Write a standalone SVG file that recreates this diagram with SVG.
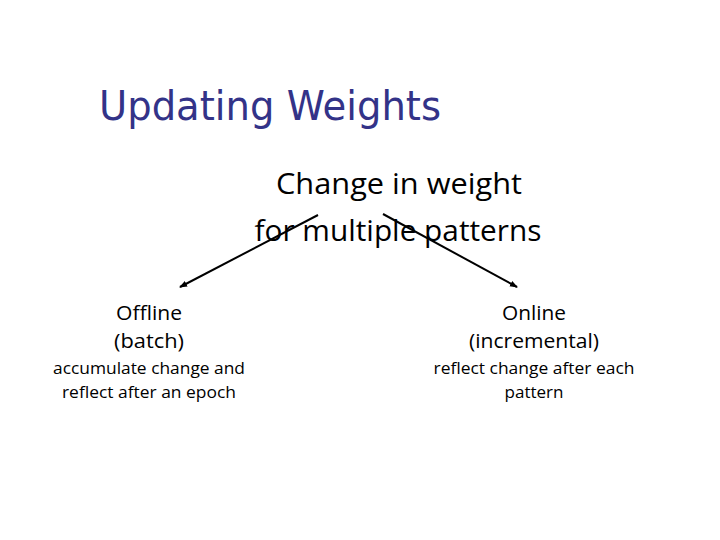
<svg xmlns="http://www.w3.org/2000/svg" width="720" height="540" viewBox="0 0 720 540">
<style>
.t{font-family:"Open Sans","Liberation Sans",sans-serif;fill:#000;text-anchor:middle}
.h{font-family:"DejaVu Sans","Liberation Sans",sans-serif;fill:#333388;font-size:40px}
.c{stroke:#000;stroke-width:2;fill:none;marker-end:url(#a)}
</style>
<defs>
<marker id="a" markerWidth="8" markerHeight="8" refX="7" refY="4" orient="auto" markerUnits="userSpaceOnUse">
<path d="M0,1 L8,4 L0,7 Z" fill="#000"/>
</marker>
</defs>
<rect width="720" height="540" fill="#fff"/>
<text class="h" x="99" y="120" textLength="342" lengthAdjust="spacingAndGlyphs">Updating Weights</text>
<g id="root">
<text class="t" x="399" y="194" font-size="29" textLength="246" lengthAdjust="spacingAndGlyphs">Change in weight</text>
<text class="t" x="398" y="241" font-size="29" textLength="287" lengthAdjust="spacingAndGlyphs">for multiple patterns</text>
</g>
<g id="offline">
<text class="t" x="149" y="320" font-size="20" textLength="66" lengthAdjust="spacingAndGlyphs">Offline</text>
<text class="t" x="149" y="348" font-size="20" textLength="70" lengthAdjust="spacingAndGlyphs">(batch)</text>
<text class="t" x="149" y="374" font-size="17" textLength="192" lengthAdjust="spacingAndGlyphs">accumulate change and</text>
<text class="t" x="149" y="398" font-size="17" textLength="174" lengthAdjust="spacingAndGlyphs">reflect after an epoch</text>
</g>
<g id="online">
<text class="t" x="534" y="320" font-size="20" textLength="64" lengthAdjust="spacingAndGlyphs">Online</text>
<text class="t" x="534" y="348" font-size="20" textLength="130" lengthAdjust="spacingAndGlyphs">(incremental)</text>
<text class="t" x="534" y="374" font-size="17" textLength="201" lengthAdjust="spacingAndGlyphs">reflect change after each</text>
<text class="t" x="534" y="398" font-size="17" textLength="59" lengthAdjust="spacingAndGlyphs">pattern</text>
</g>
<g id="connectors">
<line class="c" x1="318" y1="215" x2="180" y2="287"/>
<line class="c" x1="383" y1="214" x2="517" y2="287"/>
</g>
</svg>
